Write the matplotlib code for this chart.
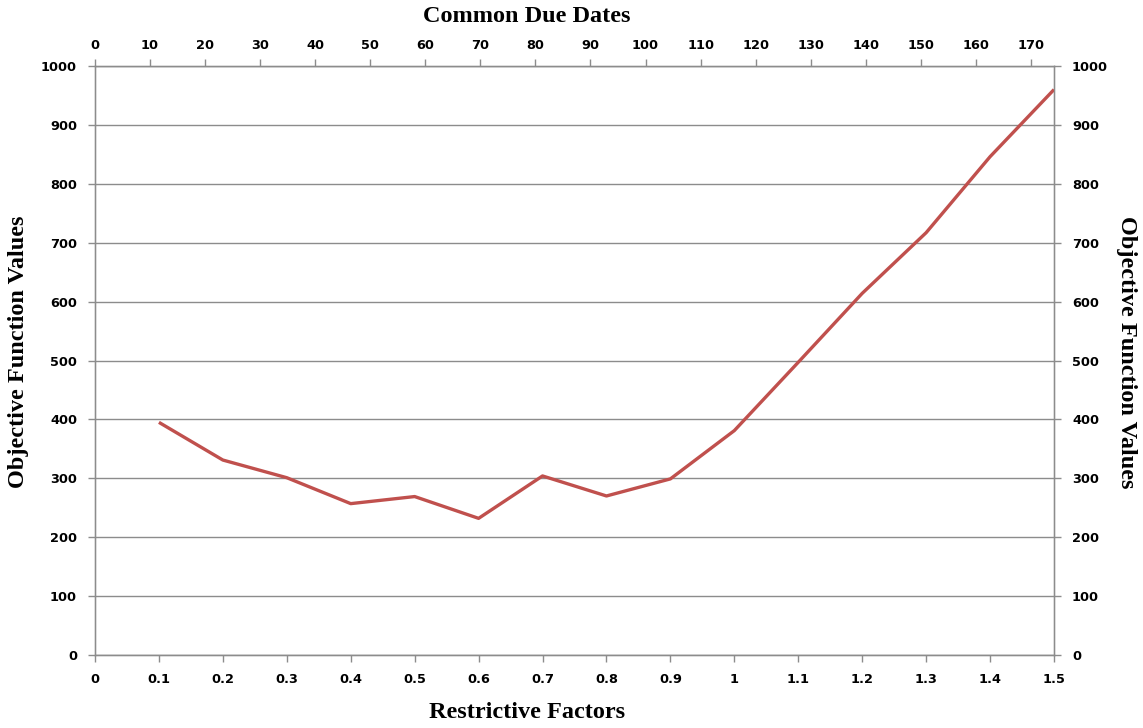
import matplotlib
matplotlib.use("Agg")
import matplotlib.pyplot as plt
import numpy as np

restrictive_factors = [0.1, 0.2, 0.3, 0.4, 0.5, 0.6, 0.7, 0.8, 0.9, 1.0, 1.1, 1.2, 1.3, 1.4, 1.5]
objective_values = [395, 331, 301, 257, 269, 232, 304, 270, 299, 381, 497, 614, 717, 846, 960]
bottom_ticks = [round(0.1 * i, 1) for i in range(16)]
bottom_labels = ["0", "0.1", "0.2", "0.3", "0.4", "0.5", "0.6", "0.7", "0.8", "0.9", "1", "1.1", "1.2", "1.3", "1.4", "1.5"]
top_ticks = list(range(0, 171, 10))
top_max = 174.2
y_ticks = list(range(0, 1001, 100))

W, H = 1143, 728
fig = plt.figure(figsize=(W / 100, H / 100), dpi=100)
ax = fig.add_axes([95/W, 73/H, (1054-95)/W, (655-66)/H])

gray = "#8c8c8c"
tick_font = dict(family="DejaVu Sans", weight="bold", size=9.3)
label_font = dict(family="Liberation Serif", weight="bold", size=17.5)

ax.plot(restrictive_factors, objective_values, color="#C0504D", lw=2.4, solid_capstyle="butt", zorder=3)
ax.set_xlim(0, 1.5)
ax.set_ylim(0, 1000)
ax.set_xticks(bottom_ticks)
ax.set_xticklabels(bottom_labels, fontdict=tick_font)
ax.set_yticks(y_ticks)
ax.set_yticklabels([str(v) for v in y_ticks], fontdict=tick_font)
ax.yaxis.grid(True, color=gray, lw=1)
ax.set_axisbelow(True)
for s in ax.spines.values():
    s.set_color(gray)
    s.set_linewidth(1)
ax.tick_params(axis="both", direction="out", length=5, color=gray, width=1, pad=8)
ax.tick_params(axis="y", pad=8)

# right axis
axr = ax.twinx()
axr.set_ylim(0, 1000)
axr.set_yticks(y_ticks)
axr.set_yticklabels([str(v) for v in y_ticks], fontdict=tick_font)
axr.tick_params(axis="y", direction="out", length=5, color=gray, width=1, pad=8)
for s in axr.spines.values():
    s.set_color(gray)

# top axis
axt = ax.twiny()
axt.set_xlim(0, top_max)
axt.set_xticks(top_ticks)
axt.set_xticklabels([str(v) for v in top_ticks], fontdict=tick_font)
axt.tick_params(axis="x", direction="out", length=5, color=gray, width=1, pad=5)
for s in axt.spines.values():
    s.set_color(gray)

fig.text(527/W, 1 - 16/H, "Common Due Dates", ha="center", va="center", **label_font)
fig.text(527/W, 1 - 713/H, "Restrictive Factors", ha="center", va="center", **label_font)
fig.text(19/W, 1 - 352/H, "Objective Function Values", ha="center", va="center", rotation=90, **label_font)
fig.text(1126/W, 1 - 352/H, "Objective Function Values", ha="center", va="center", rotation=-90, **label_font)

fig.savefig("out.png", dpi=100, facecolor="white")
